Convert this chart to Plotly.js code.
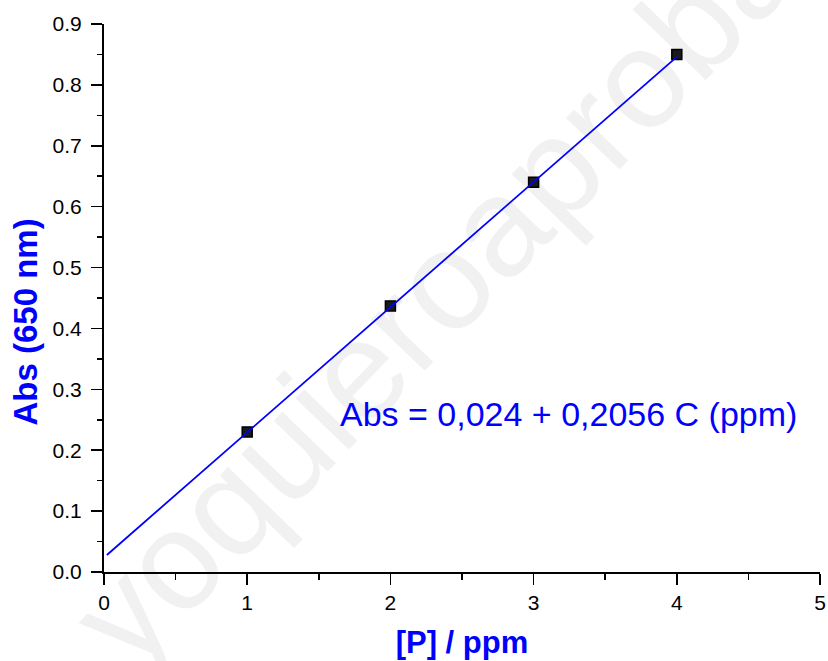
<!DOCTYPE html>
<html>
<head>
<meta charset="utf-8">
<script src="https://cdn.plot.ly/plotly-3.0.1.min.js"></script>
<style>html,body{margin:0;padding:0;background:#fff;}#chart{width:828px;height:661px;}</style>
</head>
<body>
<div id="chart"></div>
<script>
const concentration = [1, 2, 3, 4];              // [P] / ppm
const absorbance = [0.230, 0.437, 0.640, 0.850]; // Abs (650 nm)
// Fitted line end points
const fitX = [0.02, 4.0];
const fitY = [0.028, 0.846];
const equationText = 'Abs = 0,024 + 0,2056 C (ppm)';
const watermarkText = 'yoquieroaprobar';
const xTickVals = [0, 1, 2, 3, 4, 5];
const yTickVals = [0, 0.1, 0.2, 0.3, 0.4, 0.5, 0.6, 0.7, 0.8, 0.9];

const blue = '#0000ff';
const font = 'Arial, "Liberation Sans", sans-serif';

const traces = [
  {
    type: 'scatter', mode: 'markers', x: concentration, y: absorbance,
    marker: {symbol: 'square', size: 10, color: '#1a1a1a', line: {color: '#000', width: 1.5}},
    cliponaxis: false, showlegend: false, hoverinfo: 'x+y'
  },
  {
    type: 'scatter', mode: 'lines', x: fitX, y: fitY,
    line: {color: blue, width: 1.8}, showlegend: false, hoverinfo: 'skip'
  }
];

const layout = {
  width: 828, height: 661,
  margin: {l: 104, r: 8, t: 24, b: 89},
  paper_bgcolor: '#ffffff', plot_bgcolor: 'rgba(0,0,0,0)',
  showlegend: false,
  font: {family: font, color: '#000', size: 21},
  xaxis: {
    range: [0, 5], tickvals: xTickVals, ticktext: xTickVals.map(String),
    showgrid: false, zeroline: false, showline: true, linecolor: '#000', linewidth: 2,
    ticks: 'outside', ticklen: 11, tickwidth: 1.6, tickcolor: '#000',
    minor: {dtick: 0.5, ticks: 'outside', ticklen: 6, tickwidth: 1.6, tickcolor: '#000', showgrid: false},
    tickfont: {size: 21, family: font}, ticklabelstandoff: 0,
    title: {text: '<b>[P] / ppm</b>', font: {size: 31, color: blue, family: font}, standoff: 18}
  },
  yaxis: {
    range: [0, 0.9], tickvals: yTickVals, ticktext: yTickVals.map(v => v.toFixed(1)),
    showgrid: false, zeroline: false, showline: true, linecolor: '#000', linewidth: 2,
    ticks: 'outside', ticklen: 11, tickwidth: 1.6, tickcolor: '#000',
    minor: {dtick: 0.05, ticks: 'outside', ticklen: 5, tickwidth: 1.6, tickcolor: '#000', showgrid: false},
    tickfont: {size: 21, family: font}, ticklabelstandoff: 5,
    title: {text: ''}
  },
  shapes: [
    {
      type: 'line', xref: 'paper', yref: 'paper', layer: 'below',
      x0: 0.10, y0: -0.07, x1: 1.00, y1: 0.98,
      line: {color: 'rgba(0,0,0,0)', width: 1},
      label: {text: watermarkText, textposition: 'middle', textangle: -46,
              font: {size: 140, color: '#f1f1f1', family: font}}
    }
  ],
  annotations: [
    {
      xref: 'paper', yref: 'paper', x: -0.109, y: 0.457, text: '<b>Abs (650 nm)</b>',
      textangle: -90, showarrow: false, xanchor: 'center', yanchor: 'middle',
      font: {size: 33, color: blue, family: font}
    },
    {
      xref: 'x', yref: 'y', x: 3.247, y: 0.259, text: equationText, showarrow: false,
      font: {size: 34, color: blue, family: font}, xanchor: 'center', yanchor: 'middle'
    }
  ]
};

Plotly.newPlot('chart', traces, layout, {displayModeBar: false, staticPlot: true});
</script>
</body>
</html>
